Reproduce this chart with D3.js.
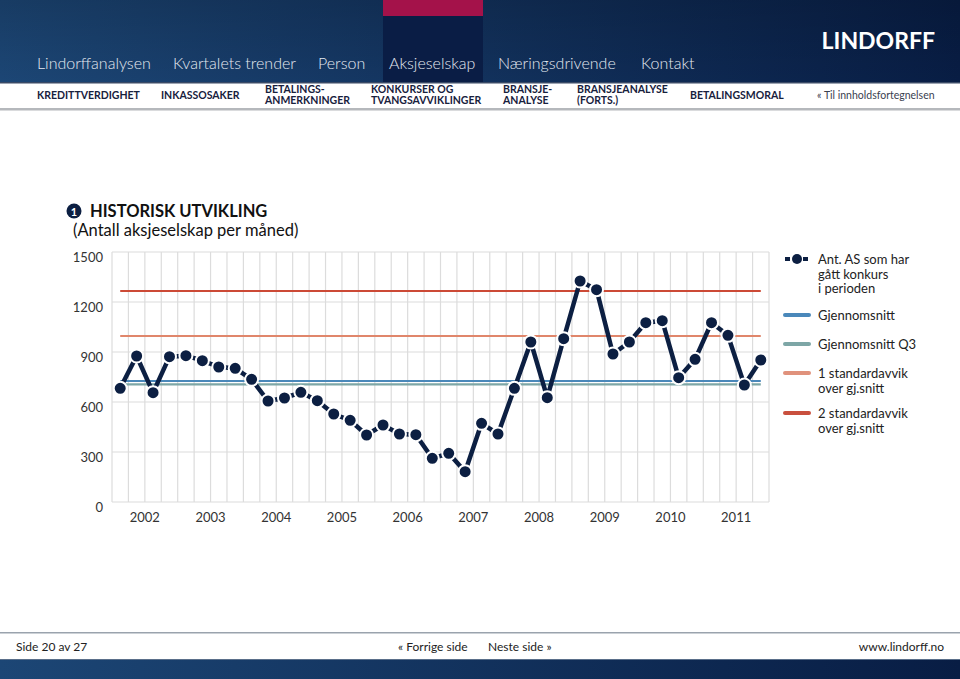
<!DOCTYPE html>
<html>
<head>
<meta charset="utf-8">
<script src="https://cdn.jsdelivr.net/npm/d3@7"></script>
<style>
  body { margin: 0; background: #fff; }
  svg { display: block; font-family: Lato, "Open Sans", sans-serif; }
</style>
</head>
<body>
<div id="chart"></div>
<script>
// Data
const years = ["2002", "2003", "2004", "2005", "2006", "2007", "2008", "2009", "2010", "2011"];
const quarters = ["Q1", "Q2", "Q3", "Q4"];
const konkurser = [
  682, 876, 656, 872, 878, 848, 810, 802, 736, 606,
  624, 658, 608, 528, 490, 402, 462, 408, 404, 262,
  292, 182, 472, 408, 682, 960, 626, 980, 1326, 1274,
  888, 960, 1076, 1088, 746, 856, 1076, 1000, 702, 852
];
const gjennomsnitt = 726;
const gjennomsnittQ3 = 706;
const std1 = 996;
const std2 = 1266;
const yTicks = [0, 300, 600, 900, 1200, 1500];

const navTop = ["Lindorffanalysen", "Kvartalets trender", "Person", "Aksjeselskap", "Næringsdrivende", "Kontakt"];
const navSub = [["KREDITTVERDIGHET"], ["INKASSOSAKER"], ["BETALINGS-", "ANMERKNINGER"],
  ["KONKURSER OG", "TVANGSAVVIKLINGER"], ["BRANSJE-", "ANALYSE"], ["BRANSJEANALYSE", "(FORTS.)"], ["BETALINGSMORAL"]];

const width = 960, height = 679;
const navy = "#0c1f42";

const svg = d3.select("#chart").append("svg")
  .attr("width", width).attr("height", height);

const defs = svg.append("defs");
const hg = defs.append("linearGradient").attr("id", "hdr");
hg.append("stop").attr("offset", "0%").attr("stop-color", "#1c4675");
hg.append("stop").attr("offset", "100%").attr("stop-color", "#081d44");
const vg = defs.append("linearGradient").attr("id", "hdrShade").attr("x2", 0).attr("y2", 1);
vg.append("stop").attr("offset", "0%").attr("stop-color", "#000").attr("stop-opacity", 0.15);
vg.append("stop").attr("offset", "100%").attr("stop-color", "#000").attr("stop-opacity", 0);

// Header
svg.append("rect").attr("width", width).attr("height", 82).attr("fill", "url(#hdr)");
svg.append("rect").attr("width", width).attr("height", 82).attr("fill", "url(#hdrShade)");
svg.append("rect").attr("x", 383).attr("y", 0).attr("width", 100).attr("height", 82).attr("fill", "#0a1d45");
svg.append("rect").attr("x", 383).attr("y", 0).attr("width", 100).attr("height", 16).attr("fill", "#a4124a");

const topX = [37, 173, 318, 389, 498, 641];
svg.selectAll(".navtop").data(navTop).join("text")
  .attr("x", (d, i) => topX[i]).attr("y", 69)
  .attr("fill", "#e4e9f0").style("font-size", "16px").style("font-weight", 300)
  .text(d => d);

svg.append("text").attr("x", 935).attr("y", 49).attr("text-anchor", "end")
  .attr("fill", "#fff").style("font-size", "23px").style("font-weight", 700)
  .text("LINDORFF");

// Sub navigation
svg.append("rect").attr("x", 0).attr("y", 82).attr("width", width).attr("height", 1.5).attr("fill", "#3a4a66");
svg.append("rect").attr("x", 0).attr("y", 108).attr("width", width).attr("height", 2.5).attr("fill", "#b5b8bc");
const subX = [37, 161, 265, 371, 503, 577, 690];
navSub.forEach((lines, i) => {
  const t = svg.append("text").attr("x", subX[i])
    .attr("fill", "#17213d").style("font-size", "10.5px").style("font-weight", 700);
  if (lines.length === 1) {
    t.attr("y", 99).text(lines[0]);
  } else {
    lines.forEach((l, j) => t.append("tspan").attr("x", subX[i]).attr("y", 93 + j * 11).text(l));
  }
});
svg.append("text").attr("x", 817).attr("y", 99).attr("fill", "#3a4150")
  .style("font-size", "10.5px").text("« Til innholdsfortegnelsen");

// Title
svg.append("circle").attr("cx", 74).attr("cy", 211).attr("r", 7.5).attr("fill", navy);
svg.append("text").attr("x", 74).attr("y", 215.5).attr("text-anchor", "middle")
  .attr("fill", "#fff").style("font-size", "11px").style("font-weight", 700).text("1");
svg.append("text").attr("x", 90).attr("y", 217).attr("fill", "#111")
  .style("font-size", "16.5px").style("font-weight", 700).text("HISTORISK UTVIKLING");
svg.append("text").attr("x", 73).attr("y", 236).attr("fill", "#111")
  .style("font-size", "16.5px").text("(Antall aksjeselskap per måned)");

// Chart
const periods = [];
years.forEach(y => quarters.forEach(q => periods.push(y + " " + q)));

const x = d3.scaleBand().domain(periods).range([112, 769]);
const y = d3.scaleLinear().domain([0, 1500]).range([502, 252]);
const grid = svg.append("g");

// vertical grid lines at band edges
grid.selectAll(".vg").data(d3.range(periods.length + 1)).join("line")
  .attr("x1", i => x.range()[0] + i * x.step()).attr("x2", i => x.range()[0] + i * x.step())
  .attr("y1", y(1500)).attr("y2", y(0))
  .attr("stroke", "#dcdcdc").attr("stroke-width", 1.2);
grid.selectAll(".hg").data(yTicks).join("line")
  .attr("x1", x.range()[0]).attr("x2", x.range()[1])
  .attr("y1", d => y(d)).attr("y2", d => y(d))
  .attr("stroke", "#dcdcdc").attr("stroke-width", 1.2);

// y labels
const yAxis = svg.append("g").attr("transform", "translate(103,0)")
  .call(d3.axisLeft(y).tickValues(yTicks).tickFormat(d3.format("d")).tickSize(0).tickPadding(0));
yAxis.select(".domain").remove();
yAxis.selectAll("text").attr("dy", "0.72em").attr("fill", "#333")
  .style("font-size", "13px").style("font-family", "Lato, sans-serif");

// year labels centred over their four quarters
svg.selectAll(".yr").data(years).join("text")
  .attr("x", d => (x(d + " Q1") + x(d + " Q4") + x.bandwidth()) / 2)
  .attr("y", 522).attr("text-anchor", "middle").attr("fill", "#333")
  .style("font-size", "13px").text(d => d);

const cx = p => x(p) + x.bandwidth() / 2;
const x0 = cx(periods[0]), x1 = cx(periods[periods.length - 1]);
const refs = [
  { v: std2, c: "#cc4a36", w: 2 },
  { v: std1, c: "#e0866b", w: 2 },
  { v: gjennomsnitt, c: "#4a88ba", w: 2.2 },
  { v: gjennomsnittQ3, c: "#7da6a6", w: 2.2 }
];
svg.selectAll(".ref").data(refs).join("line")
  .attr("x1", x0).attr("x2", x1)
  .attr("y1", d => y(d.v)).attr("y2", d => y(d.v))
  .attr("stroke", d => d.c).attr("stroke-width", d => d.w);

const line = d3.line().x((d, i) => cx(periods[i])).y(d => y(d));
svg.append("path").datum(konkurser)
  .attr("fill", "none").attr("stroke", navy).attr("stroke-width", 4.5)
  .attr("stroke-linejoin", "round").attr("d", line);
svg.selectAll(".pt").data(konkurser).join("circle")
  .attr("cx", (d, i) => cx(periods[i])).attr("cy", d => y(d)).attr("r", 6.5)
  .attr("fill", navy).attr("stroke", "#fff").attr("stroke-width", 2);

// Legend
const legend = [
  { lines: ["Ant. AS som har", "gått konkurs", "i perioden"], c: navy, dot: true, y: 259 },
  { lines: ["Gjennomsnitt"], c: "#4a88ba", y: 315 },
  { lines: ["Gjennomsnitt Q3"], c: "#7da6a6", y: 344 },
  { lines: ["1 standardavvik", "over gj.snitt"], c: "#e0927c", y: 373 },
  { lines: ["2 standardavvik", "over gj.snitt"], c: "#c9503e", y: 413 }
];
const lg = svg.append("g");
legend.forEach(d => {
  if (d.dot) {
    lg.append("line").attr("x1", 785).attr("x2", 808).attr("y1", d.y).attr("y2", d.y)
      .attr("stroke", d.c).attr("stroke-width", 4).attr("stroke-dasharray", "5 13");
    lg.append("circle").attr("cx", 797).attr("cy", d.y).attr("r", 5).attr("fill", d.c);
  } else {
    lg.append("line").attr("x1", 785).attr("x2", 809).attr("y1", d.y).attr("y2", d.y)
      .attr("stroke", d.c).attr("stroke-width", 4).attr("stroke-linecap", "round");
  }
  d.lines.forEach((l, j) => lg.append("text").attr("x", 818).attr("y", d.y + 5 + j * 14.5)
    .attr("fill", "#222").style("font-size", "13px").text(l));
});

// Footer
svg.append("rect").attr("x", 0).attr("y", 632).attr("width", width).attr("height", 1.5).attr("fill", "#9aa3ad");
const ft = [
  { t: "Side 20 av 27", x: 16, a: "start" },
  { t: "« Forrige side", x: 398, a: "start" },
  { t: "Neste side »", x: 488, a: "start" },
  { t: "www.lindorff.no", x: 944, a: "end" }
];
svg.selectAll(".ft").data(ft).join("text")
  .attr("x", d => d.x).attr("y", 651).attr("text-anchor", d => d.a)
  .attr("fill", "#222").style("font-size", "12px").text(d => d.t);
svg.append("rect").attr("x", 0).attr("y", 659).attr("width", width).attr("height", 1.5).attr("fill", "#5a6f8a");
svg.append("rect").attr("x", 0).attr("y", 660).attr("width", width).attr("height", 19).attr("fill", "url(#hdr)");
</script>
</body>
</html>
